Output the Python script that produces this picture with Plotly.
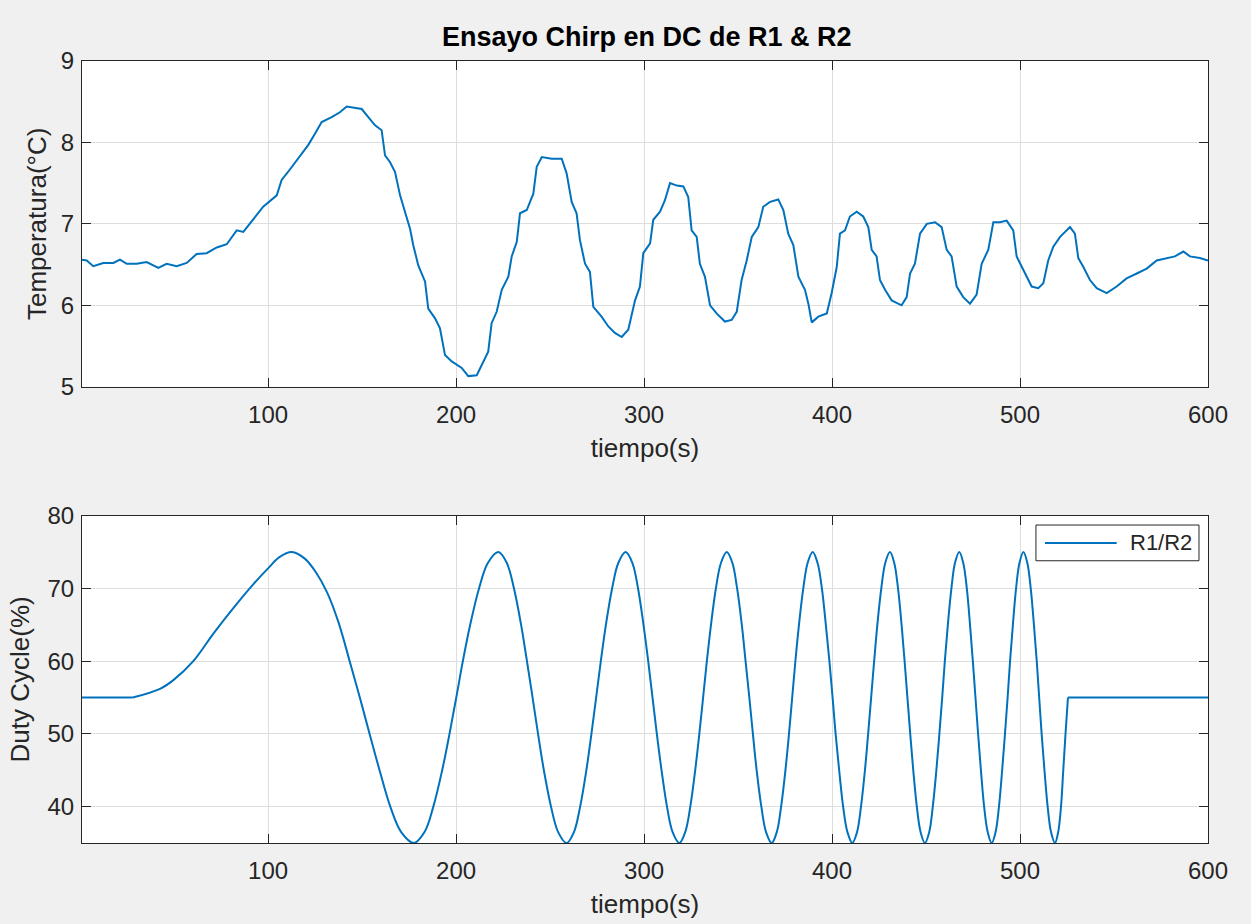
import plotly.graph_objects as go

# --- Temperature response (top panel) ---
tiempo_temp = [1, 3.5, 7, 12.3, 17.7, 21.2, 24.8, 30.1, 35.4, 41.6, 46, 51.4, 56.7, 62, 67.3,
               72.7, 78, 83.3, 86.8, 92.1, 97.4, 104.6, 107.2, 110.7, 116.1, 121.4, 125, 128.5,
               133.8, 138.2, 141.8, 146.2, 149.8, 153.3, 156.9, 160.4, 162.2, 164.8, 167.5, 170.2,
               172.8, 175.5, 177.2, 179.9, 183.5, 185.2, 188.8, 191.4, 194.1, 197.7, 203, 206.5,
               211, 213.6, 217.1, 218.9, 221.6, 224.3, 227.8, 229.6, 232.3, 234, 237.6, 241.1,
               242.9, 245.6, 250.9, 256.2, 258.8, 261.5, 264.1, 265.9, 268.6, 271.2, 273, 277.4,
               281, 284.5, 288.1, 291.6, 295.2, 297.8, 299.6, 303.2, 304.9, 308.5, 311.1, 313.8,
               317.4, 320.9, 323.5, 325.3, 328, 329.7, 332.4, 335.1, 338.6, 343, 346.6, 349.3,
               351.9, 354.6, 357.3, 360.8, 363.4, 367, 371.4, 374.1, 376.7, 379.4, 382.1, 385.6,
               387.4, 389.2, 392.7, 397.2, 399.8, 402.5, 404.2, 406.9, 409.5, 413.1, 416.6, 419.3,
               421.1, 423.7, 425.5, 428.2, 431.7, 437, 439.7, 441.5, 444.1, 446.8, 450.4, 454.8,
               458.3, 461, 463.6, 466.3, 469.8, 473.4, 476.9, 479.6, 483.1, 485.8, 489.3, 492.9,
               496.4, 498.2, 501.7, 503.5, 506.2, 509.7, 512.4, 515, 517.7, 521.3, 526.6, 529.2,
               531, 533.7, 537.2, 540.8, 546.1, 551.4, 556.7, 562.1, 567.4, 572.7, 578, 582.4,
               586.9, 590.4, 595.7, 600]
temperatura = [6.56, 6.55, 6.48, 6.52, 6.52, 6.56, 6.51, 6.51, 6.53, 6.46, 6.51, 6.48, 6.52, 6.63, 6.64,
               6.71, 6.75, 6.92, 6.90, 7.05, 7.21, 7.35, 7.54, 7.64, 7.80, 7.97, 8.11, 8.25,
               8.31, 8.37, 8.44, 8.42, 8.41, 8.31, 8.21, 8.15, 7.84, 7.76, 7.64, 7.35,
               7.15, 6.94, 6.74, 6.49, 6.29, 5.96, 5.84, 5.72, 5.39, 5.31, 5.23, 5.13,
               5.14, 5.27, 5.43, 5.78, 5.92, 6.19, 6.35, 6.60, 6.78, 7.13, 7.17, 7.37,
               7.70, 7.82, 7.80, 7.80, 7.62, 7.27, 7.13, 6.80, 6.51, 6.41, 5.98, 5.86,
               5.74, 5.66, 5.61, 5.70, 6.06, 6.23, 6.64, 6.76, 7.05, 7.15, 7.29, 7.50,
               7.47, 7.46, 7.33, 6.92, 6.84, 6.51, 6.35, 6.00, 5.90, 5.80, 5.82, 5.92,
               6.31, 6.55, 6.84, 6.96, 7.21, 7.27, 7.30, 7.17, 6.88, 6.74, 6.35, 6.19,
               6.02, 5.79, 5.86, 5.90, 6.15, 6.47, 6.88, 6.92, 7.09, 7.15, 7.09, 6.96,
               6.68, 6.60, 6.31, 6.19, 6.06, 6.00, 6.10, 6.39, 6.51, 6.88, 7.00, 7.02,
               6.96, 6.68, 6.60, 6.23, 6.10, 6.02, 6.13, 6.51, 6.68, 7.02, 7.02, 7.04,
               6.92, 6.60, 6.43, 6.35, 6.23, 6.21, 6.27, 6.55, 6.72, 6.84, 6.96, 6.88,
               6.58, 6.47, 6.31, 6.21, 6.15, 6.23, 6.33, 6.39, 6.45, 6.55, 6.58, 6.60,
               6.66, 6.60, 6.58, 6.55]

# --- Duty cycle command (bottom panel) ---
# constant lead-in before the chirp
tiempo_inicio = [1, 28]
duty_inicio = [55, 55]
# chirp section
tiempo_chirp = [28, 42.5, 49.6, 60.2, 70.9, 81.5, 92.2, 100.5, 106.0, 112.6,
                119.5, 125.5, 131.5, 137.5, 143.4, 148.8, 154.0, 159.3, 165.0, 170.8, 177.6,
                183.2, 187.9, 192.6, 196.5, 200.1, 203.6, 207.5, 212.2, 216.9, 222.5,
                227.0, 230.8, 234.6, 237.7, 240.7, 243.6, 246.7, 250.5, 254.3, 258.8,
                262.7, 266.0, 269.3, 272.0, 274.5, 277.0, 279.7, 283.0, 286.3, 290.2,
                293.8, 296.8, 299.7, 302.2, 304.5, 306.8, 309.3, 312.2, 315.2, 318.8,
                321.9, 324.6, 327.2, 329.4, 331.4, 333.4, 335.6, 338.2, 340.9, 344.0,
                347.0, 349.5, 352.0, 354.0, 356.0, 357.9, 359.9, 362.4, 364.9, 367.9,
                370.6, 372.9, 375.2, 377.1, 378.8, 380.5, 382.4, 384.7, 387.0, 389.7,
                392.3, 394.6, 396.7, 398.6, 400.3, 401.9, 403.8, 405.9, 408.2, 410.8,
                413.3, 415.4, 417.5, 419.2, 420.8, 422.4, 424.1, 426.2, 428.3, 430.8,
                433.1, 435.1, 437.0, 438.6, 440.1, 441.6, 443.2, 445.1, 447.1, 449.4,
                451.7, 453.6, 455.5, 457.1, 458.6, 460.0, 461.6, 463.5, 465.4, 467.7,
                469.8, 471.7, 473.4, 474.9, 476.3, 477.7, 479.2, 480.9, 482.8, 484.9,
                487.0, 488.8, 490.5, 492.0, 493.4, 494.7, 496.2, 497.9, 499.7, 501.8,
                503.9, 505.7, 507.4, 508.9, 510.2, 511.5, 513.0, 514.7, 516.5, 518.6,
                520.3, 521.8, 523.0, 524.2, 525.5]
duty_chirp = [55, 56.2, 57.4, 60, 63.8, 67.3, 70.6, 72.9, 74.3, 75,
              74.1, 72.2, 69.4, 65.3, 60, 55, 50, 45, 40, 36.5, 35,
              36.5, 40, 45, 50, 55, 60, 65, 70, 73.5, 75,
              73.5, 70, 65, 60, 55, 50, 45, 40, 36.5, 35,
              36.5, 40, 45, 50, 55, 60, 65, 70, 73.5, 75,
              73.5, 70, 65, 60, 55, 50, 45, 40, 36.5, 35,
              36.5, 40, 45, 50, 55, 60, 65, 70, 73.5, 75,
              73.5, 70, 65, 60, 55, 50, 45, 40, 36.5, 35,
              36.5, 40, 45, 50, 55, 60, 65, 70, 73.5, 75,
              73.5, 70, 65, 60, 55, 50, 45, 40, 36.5, 35,
              36.5, 40, 45, 50, 55, 60, 65, 70, 73.5, 75,
              73.5, 70, 65, 60, 55, 50, 45, 40, 36.5, 35,
              36.5, 40, 45, 50, 55, 60, 65, 70, 73.5, 75,
              73.5, 70, 65, 60, 55, 50, 45, 40, 36.5, 35,
              36.5, 40, 45, 50, 55, 60, 65, 70, 73.5, 75,
              73.5, 70, 65, 60, 55, 50, 45, 40, 36.5, 35,
              36.5, 40, 45, 50, 55]
# constant tail after the chirp
tiempo_final = [525.5, 600]
duty_final = [55, 55]

x_ticks = [100, 200, 300, 400, 500, 600]

LINE = "#0072BD"
AXIS = "#262626"
GRID = "#DEDEDE"
FONT = "Liberation Sans, Arial, Helvetica, sans-serif"

fig = go.Figure()
fig.add_trace(go.Scatter(x=tiempo_temp, y=temperatura, mode="lines",
                         line=dict(color=LINE, width=2), xaxis="x", yaxis="y",
                         showlegend=False))
fig.add_trace(go.Scatter(x=tiempo_inicio, y=duty_inicio, mode="lines",
                         line=dict(color=LINE, width=2), xaxis="x2", yaxis="y2",
                         showlegend=False))
fig.add_trace(go.Scatter(x=tiempo_chirp, y=duty_chirp, mode="lines",
                         line=dict(color=LINE, width=2, shape="spline", smoothing=1.0),
                         xaxis="x2", yaxis="y2", showlegend=False, name="R1/R2"))
fig.add_trace(go.Scatter(x=tiempo_final, y=duty_final, mode="lines",
                         line=dict(color=LINE, width=2), xaxis="x2", yaxis="y2",
                         showlegend=False))

axis_common = dict(
    showline=True, linecolor=AXIS, linewidth=1, mirror="ticks",
    ticks="inside", ticklen=9, tickwidth=1, tickcolor=AXIS,
    showgrid=True, gridcolor=GRID, gridwidth=1, zeroline=False,
    automargin=False,
    tickfont=dict(family=FONT, size=24, color=AXIS),
)
title_font = dict(family=FONT, size=26, color=AXIS)

fig.update_layout(
    width=1251, height=924,
    paper_bgcolor="#F0F0F0", plot_bgcolor="white",
    margin=dict(l=82, r=43, t=61, b=81, autoexpand=False),
    title=dict(text="<b>Ensayo Chirp en DC de R1 & R2</b>",
               font=dict(family=FONT, size=27, color="#000000"),
               x=0.5015, xanchor="center", xref="paper",
               y=1 - 37 / 924, yanchor="middle", yref="container"),
    xaxis=dict(axis_common, domain=[0, 1], range=[1, 600], tickvals=x_ticks,
               ticklabelstandoff=6, anchor="y",
               title=dict(text="tiempo(s)", font=title_font, standoff=12)),
    yaxis=dict(axis_common, domain=[0.5835, 1], range=[5, 9], dtick=1, tick0=5,
               ticklabelstandoff=2, anchor="x",
               title=dict(text="Temperatura(°C)", font=title_font, standoff=6)),
    xaxis2=dict(axis_common, domain=[0, 1], range=[1, 600], tickvals=x_ticks,
                ticklabelstandoff=6, anchor="y2",
                title=dict(text="tiempo(s)", font=title_font, standoff=12)),
    yaxis2=dict(axis_common, domain=[0, 0.4185], range=[35, 80], dtick=10, tick0=40,
                ticklabelstandoff=2, anchor="x2",
                title=dict(text="Duty Cycle(%)", font=title_font, standoff=10)),
    showlegend=False,
)

# legend box for the duty cycle panel
fig.add_shape(type="rect", xref="x2 domain", yref="y2 domain",
              x0=0.8472, x1=0.9920, y0=0.8624, y1=0.9716,
              line=dict(color=AXIS, width=1), fillcolor="white", layer="above")
fig.add_shape(type="line", xref="x2 domain", yref="y2 domain",
              x0=0.8552, x1=0.9189, y0=0.9170, y1=0.9170,
              line=dict(color=LINE, width=2), layer="above")
fig.add_annotation(text="R1/R2", xref="x2 domain", yref="y2 domain",
                   x=0.9289, y=0.9170, xanchor="left", yanchor="middle",
                   showarrow=False, font=dict(family=FONT, size=22, color=AXIS))

fig.write_html("out.html")
